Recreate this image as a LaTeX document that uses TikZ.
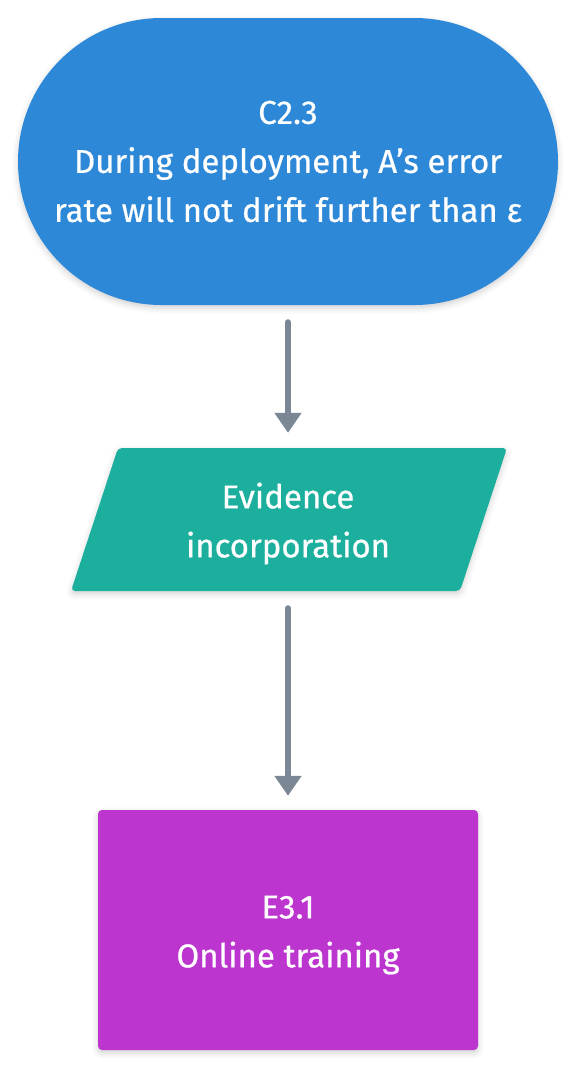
\documentclass[tikz,border=0pt]{standalone}
\usepackage{fontspec}
\setmainfont{Fira Sans}[FakeBold=0.6]
\usetikzlibrary{shapes.misc,arrows.meta,shadows.blur}
\definecolor{cblue}{HTML}{2E88D8}
\definecolor{cteal}{HTML}{1CAF9D}
\definecolor{cpurple}{HTML}{BC35CF}
\definecolor{cgray}{HTML}{7B8794}
\begin{document}
\begin{tikzpicture}[x=1pt,y=-1pt,
  shade/.style={blur shadow={shadow xshift=0pt,shadow yshift=-3pt,shadow blur radius=6pt,shadow opacity=18}},
  lbl/.style={text=white,align=center,font=\fontsize{33}{49}\selectfont},
  conn/.style={draw=cgray,line width=6pt,line cap=round,-{Triangle[width=26pt,length=20pt]}}]
\useasboundingbox (0,0) rectangle (578,1068);
\node[rounded rectangle,fill=cblue,shade,minimum width=540pt,minimum height=287pt,lbl,inner sep=0pt] (claim) at (288,161.5)
  {C2.3\\During deployment, A’s error\\rate will not drift further than ε};
\fill[cteal,rounded corners=4pt,shade] (118,448) -- (507,448) -- (460,591) -- (71,591) -- cycle;
\node[minimum height=143pt,minimum width=10pt,inner sep=0pt] (ev) at (288,519.5) {};
\node[lbl,inner sep=0pt] (evt) at ([yshift=-4pt]ev.center) {Evidence\\incorporation};
\node[fill=cpurple,rounded corners=4pt,shade,minimum width=380pt,minimum height=240pt,inner sep=0pt] (e31) at (288,930) {};
\node[lbl,inner sep=0pt] (e31t) at ([yshift=-5pt]e31.center) {E3.1\\Online training};
\draw[conn,shorten <=17pt,shorten >=15pt] (claim.south) -- (ev.north);
\draw[conn,shorten <=17pt,shorten >=14pt] (ev.south) -- (e31.north);
\end{tikzpicture}
\end{document}
